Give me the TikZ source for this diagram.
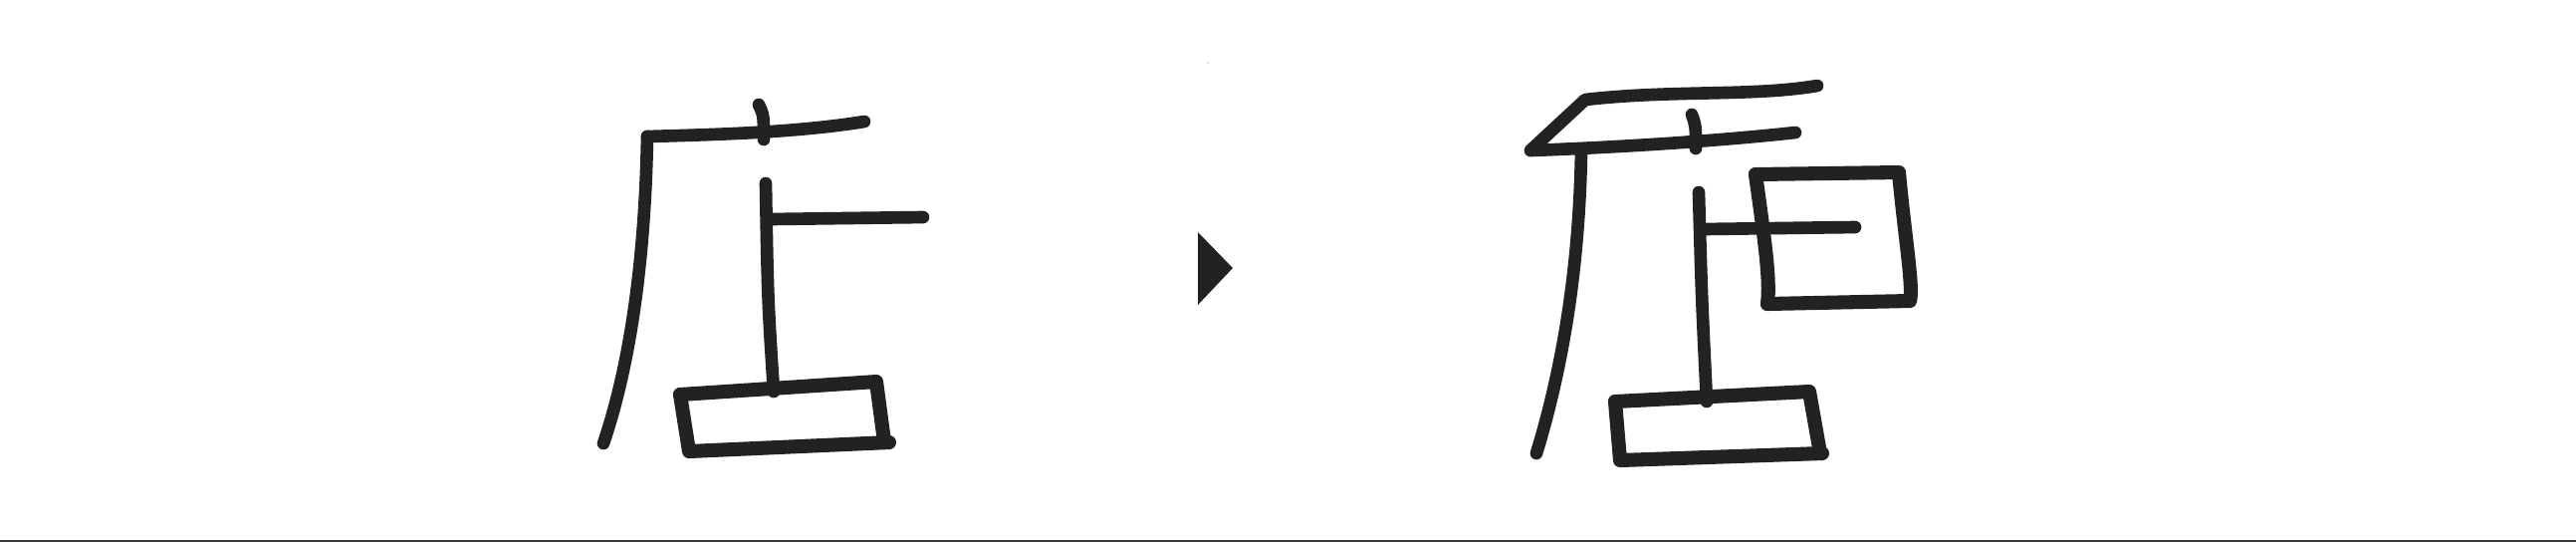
\documentclass[tikz,border=0pt]{standalone}
\usepackage{tikz}
\definecolor{ink}{HTML}{222222}
\tikzstyle{brush} = [draw=ink, 
line width=3.6pt, 
line cap=round, 
line join=round]
\tikzstyle{boxbrush} = [draw=ink, 
line width=4pt, 
line cap=round, 
line join=round]
\tikzstyle{marker} = [fill=ink]

\begin{document}
\begin{tikzpicture}[x=0.01cm, y=-0.01cm]
    
    \useasboundingbox (0,0) rectangle (2587,544);
    
    % left glyph
    \draw[brush] (650,137) .. controls (648,250) and (635,360) .. (606,445);
    \draw[brush] (650,137) .. controls (720,135) and (800,133) .. (868,122);
    \draw[brush] (762,105) .. controls (767,116) .. (767,140);
    \draw[brush] (769,184) .. controls (771,300) .. (777,393);
    \draw[brush] (773,220) -- (927,218);
    
    \draw[boxbrush] (683,396) -- (880,383) -- (888,443);
    \draw[boxbrush] (683,396) -- (692,453) -- (893,444);
    
    % middle marker
    \fill[marker] (1203,233) -- (1238,269) -- (1203,306) -- cycle;
    \fill[ink!60] (1213,63) circle (0.6);
    
    % right glyph
    \draw[brush] (1538,150) -- (1592,100) .. controls (1680,90) and (1760,97) .. (1825,86);
    \draw[brush] (1537,151) .. controls (1620,148) and (1720,142) .. (1803,133);
    \draw[brush] (1699,115) .. controls (1703,126) .. (1703,149);
    \draw[brush] (1588,153) .. controls (1586,260) and (1572,360) .. (1543,455);
    \draw[brush] (1706,193) .. controls (1709,300) .. (1714,403);
    \draw[brush] (1710,230) -- (1863,228);
    
    \draw[boxbrush] (1763,175) -- (1907,173) .. controls (1912,230) and (1922,290) .. (1918,302) -- (1775,305);
    \draw[boxbrush] (1763,175) .. controls (1772,240) and (1778,280) .. (1775,305);
    
    \draw[boxbrush] (1622,403) -- (1817,393) -- (1828,455);
    \draw[boxbrush] (1622,403) -- (1627,462) -- (1830,455);
    
    % base line
    \draw[ink!90, line width=0.6pt] (0,543) -- (2587,543);
    
    \end{tikzpicture}
\end{document}
